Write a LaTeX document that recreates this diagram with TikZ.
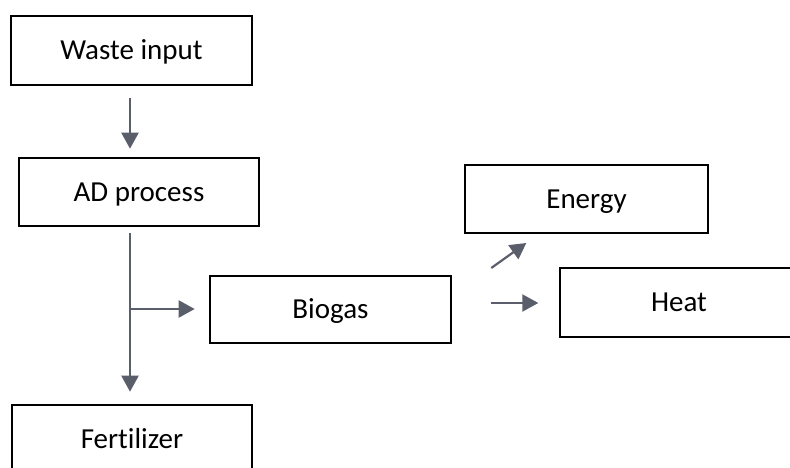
\documentclass[tikz,border=0pt]{standalone}
\usepackage{fontspec}
\setmainfont[Ligatures={NoCommon}]{Carlito}
\usetikzlibrary{arrows.meta}
\definecolor{arrgray}{HTML}{5A5E6B}
\tikzset{
  box/.style={draw=black, line width=2.6pt, fill=white, inner sep=0pt,
    text height=18.7pt, text depth=0pt, align=center,
    font=\fontsize{29}{34}\selectfont},
  arr/.style={draw=arrgray, line width=2.2pt,
    -{Triangle[length=16pt,width=17pt]}}
}
\begin{document}
\begin{tikzpicture}[x=1pt,y=-1pt]
\useasboundingbox (0,0) rectangle (790,468);
\clip (0,0) rectangle (790,468);
\fill[white] (0,0) rectangle (790,468);
\node[box, minimum width=241pt, minimum height=69pt] (waste) at (131.5,50.5) {Waste input};
\node[box, minimum width=240pt, minimum height=68pt] (ad) at (139,192) {AD process};
\node[box, minimum width=241pt, minimum height=67pt] (biogas) at (330.5,309.5) {Biogas};
\node[box, minimum width=243pt, minimum height=68pt] (energy) at (586.5,199) {Energy};
\node[box, minimum width=238pt, minimum height=69pt] (heat) at (679,302.5) {Heat};
\node[box, minimum width=240pt, minimum height=68pt] (fert) at (132,439) {Fertilizer};
% connectors
\draw[arr] ([xshift=-1.5pt,yshift=-12pt]waste.south) -- ([xshift=-9pt,yshift=8pt]ad.north);
\coordinate (split) at ([xshift=-9pt]ad.south |- biogas.west);
\draw[arr] ([xshift=-9pt,yshift=-6pt]ad.south) -- ([xshift=-2pt,yshift=12pt]fert.north);
\draw[arr] ([yshift=0.5pt]split) -- ([xshift=-14pt,yshift=0.5pt]biogas.west);
\draw[arr] ([xshift=39pt,yshift=41.5pt]biogas.east) -- ([xshift=74pt,yshift=66.5pt]biogas.east);
\draw[arr] ([xshift=39pt,yshift=6.5pt]biogas.east) -- ([xshift=86pt,yshift=6.5pt]biogas.east);
\end{tikzpicture}
\end{document}
